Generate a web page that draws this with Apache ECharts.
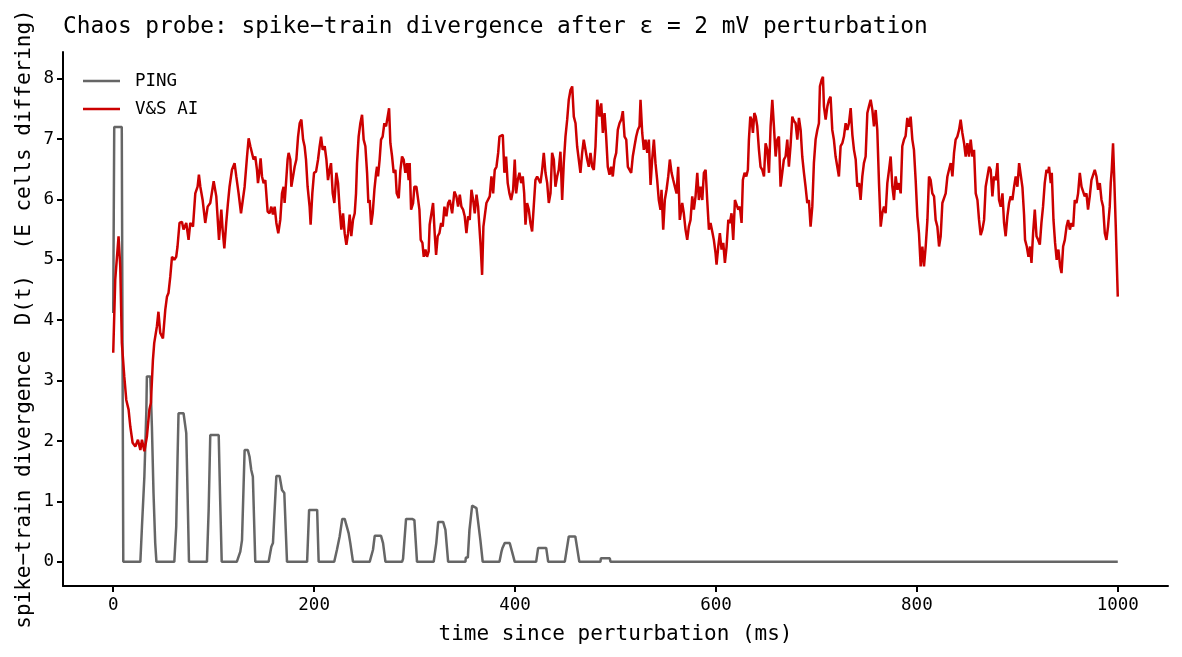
<!DOCTYPE html>
<html>
<head>
<meta charset="utf-8">
<script src="https://cdn.jsdelivr.net/npm/echarts@6/dist/echarts.min.js"></script>
<style>
html,body{margin:0;padding:0;background:#fff;}
#chart{width:1182px;height:657px;}
</style>
</head>
<body>
<div id="chart"></div>
<script>
const titleText = 'Chaos probe: spike\u2212train divergence after \u03b5 = 2 mV perturbation';
const xName = 'time since perturbation (ms)';
const yName = 'spike\u2212train divergence  D(t)  (E cells differing)';
const seriesNames = ['PING', 'V&S AI'];
const xTicks = [0, 200, 400, 600, 800, 1000];
const yTicks = [0, 1, 2, 3, 4, 5, 6, 7, 8];

const pingT = [0,1,8.5,10,27,28.6,31,33,33.5,36.9,38.5,40.1,41.8,43,
  60.8,62.7,64,65,70,72.7,74,75.4,
  93.3,95,96.6,105,106.5,108,
  123,126.5,128.2,130.8,134,135.7,137.4,139,141.4,
  154.7,157.4,159,162.4,165.6,168,170.3,173,
  193,195,203,204.5,
  220,222.7,225.4,228,230.4,234.4,236,238.7,
  255.3,258.6,260.3,266.6,268.6,271,
  287.5,288.5,290,291.5,297.5,299.8,302.4,
  319,321.6,323.5,328.4,330.7,333.4,
  350.6,351,353,354.6,357.3,359,361.6,365.5,367.8,
  384.5,386.5,387.5,389.7,394.7,397,399.7,
  421,423,431,433,
  449.5,453.5,460,464,
  485,485.5,494.3,495,1000];
const pingV = [4.12,7.2,7.2,0,0,0.58,1.41,2.52,3.07,3.07,2.24,1.14,0.31,0,
  0,0.58,1.69,2.46,2.46,2.13,1.14,0,
  0,0.86,2.1,2.1,1.0,0,
  0,0.17,0.36,1.85,1.85,1.74,1.52,1.41,0,
  0,0.25,0.31,1.42,1.42,1.19,1.14,0,
  0,0.86,0.86,0,
  0,0.2,0.42,0.71,0.71,0.47,0.31,0,
  0,0.2,0.43,0.43,0.31,0,
  0,0.05,0.05,0.71,0.71,0.69,0,
  0,0.31,0.66,0.66,0.53,0,
  0,0.07,0.07,0.53,0.93,0.93,0.89,0.36,0,
  0,0.17,0.23,0.31,0.31,0.17,0,
  0,0.23,0.23,0,
  0,0.42,0.42,0,
  0,0.06,0.06,0,0];

const redT = [0,2,5.3,7,8.6,11,13,15.3,17,19.3,22,24.6,27,28.6,31,33.5,36,37.5,39.5,40.8,
  43.5,45,46.8,49.5,51.8,53.5,55,56.8,58.5,60.8,62.7,64,66,68.4,70,72.7,75,76.7,79.4,81.7,
  84,85.3,86.7,89,91.6,94,96.6,100,102.6,105.3,107.6,108.9,110.6,112.5,114.2,115.8,118.2,120.8,122.5,124.8,
  127.2,128.8,130.8,133.2,134.8,136.5,138.1,139.7,141.4,143.1,144.1,145.4,146.7,148.1,149.7,151.4,153.7,155.7,157.4,159,
  160.7,162.4,164.3,166.3,168,169.6,170.6,172,173.6,174.6,176.3,177.3,179,180.6,182.3,184,185.6,187.3,189,190.5,
  191.9,193.5,195.5,196.5,198.2,199.9,201.9,203.9,205.5,206.9,208.5,210.5,212.2,213.8,215.4,216.8,218.5,220.1,222.1,223.8,
  225.4,227.1,228.8,230.4,232.1,233.8,235.4,237,238.7,240.4,241.7,242.7,244.3,246,247.7,249.3,251,252.7,254,255.3,
  256.7,258.3,260,261.7,262.6,263.6,265.2,266.6,268.2,269.9,271.6,273.2,274.6,275.9,277.6,279.2,280.9,282.2,284.2,285.9,
  287.5,289.1,290.8,292.5,294.1,295.1,296.5,298.5,299.8,301.8,303.1,304.8,306.1,307.8,309.1,310.8,312.4,314,315,316.7,
  318.4,320,321.4,323,324.7,326.4,328,329.7,331.7,333.4,335,337.4,339.6,341.6,343.3,345,346.6,348.3,349.9,351.6,
  353.3,354.9,356.6,358.3,359.9,361.6,363.2,364.5,365.8,367.2,368.5,369.8,371.5,373.2,374.8,376.5,378.2,379.8,381.5,383.2,
  384.5,386.2,387.8,389.4,391.1,392.7,394.4,396.1,398.1,399.7,401.1,402.7,404.4,406.1,407.7,409.1,410.4,412,413.7,415.3,
  417,418.6,420.3,422,423.6,425.3,427,428.6,430.3,432,433.6,435.3,436.9,438.6,440.2,441.9,443.5,445.2,446.9,448.5,
  450.2,451.9,453.5,455.2,456.9,458.5,460.2,461.8,463.5,465.1,466.8,468.4,470.1,471.8,473.4,475.1,476.8,478.4,480.1,481.8,
  482.8,484.1,485.8,487.4,489.1,490.7,492.3,494,495.7,497.3,499,500.7,502.3,504,505.7,507.3,509,510.7,512.3,514,
  515.6,517.2,518.9,520.6,522.2,523.9,524.9,526.6,528.2,529.9,531.6,533.2,534.9,536.5,538.2,539.8,541.5,543.1,544.8,545.8,
  547.5,549.1,550.8,552.5,554.1,555.8,557.5,559.1,560.8,562.4,564,566.4,568,569.7,571.4,573,574.7,576.4,578,579.7,
  581.4,583,584.7,586.4,588,589.7,591.3,593,594.6,596.3,597.9,599.6,600.6,602.3,603.9,605.6,607.3,608.9,610.6,612.3,
  613.9,615.5,617.2,618.9,620.5,622.2,623.8,625.5,626.8,628.5,630.2,631.8,632.8,634.2,635.5,636.8,638.2,639.6,641.1,642.8,
  644.4,646.1,647.8,649.4,651.1,652.8,654.4,656.1,657.7,659.4,661.1,662.7,664.3,666,667.6,669.3,671,672.6,674.3,676,
  677.6,679.3,681,682.6,684.3,685.9,687.6,689.2,690.9,692.5,694.2,695.9,697.5,699.2,700.9,702.5,703.5,705.2,706.5,707.5,
  709.2,710.9,712.5,714.1,715.8,717.4,719.1,720.8,722.4,724.1,725.8,727.4,729.1,730.8,732.4,734.1,735.8,737.4,739.1,740.7,
  742.4,744,745.7,747.3,749,750.7,752.3,754,755.7,757.3,759,760.6,762.3,764,765.6,767.3,768.9,770.6,772.3,773.9,
  775.6,777.2,778.9,780.6,782.2,783.9,785.5,787.2,788.8,790.5,792.1,793.8,795.5,797.1,798.8,800.5,802.1,803.8,805.5,807.1,
  808.8,810.5,812.1,813.7,815.4,817.1,818.7,820.4,822.1,823.7,825.4,827,828.7,830.4,832,833.7,835.4,837,838.6,840.3,
  842,843.6,845.3,847,848.6,850.3,851.9,853.6,855.3,856.9,858.6,860.3,861.9,863.5,865.2,866.9,868.5,870.2,871.9,873.5,
  875.2,876.8,878.5,880.2,881.8,883.5,885.2,886.8,888.4,890.1,891.8,893.4,895.1,896.8,898.4,900.1,901.8,903.4,905.1,906.7,
  907.7,909.4,911.1,912.7,914.1,915.7,917.4,919.1,920.7,922.4,924,925.6,927.3,929,930.6,931.6,933.3,934.3,936,937.6,
  939.2,940.9,942.6,944,945.6,947.3,949,950.6,952.3,953.9,955.6,957.2,958.9,960.5,962.2,963.9,965.5,967.1,968.8,970.4,
  972.1,973.8,975.4,977.1,978.8,980.4,982.1,983.8,985.4,987.1,988.7,990.3,992,993,994,995.3,996.3,998,1000];
const redV = [3.46,4.67,5.39,4.89,3.62,3.07,2.68,2.52,2.24,1.97,1.91,2.02,1.85,2.02,1.83,2.07,2.52,2.63,3.34,3.62,
  3.9,4.14,3.79,3.7,4.17,4.39,4.45,4.72,5.05,5.0,5.05,5.22,5.61,5.63,5.5,5.61,5.33,5.61,5.55,6.1,
  6.21,6.41,6.21,5.99,5.61,5.88,5.94,6.3,6.05,5.33,5.83,5.5,5.19,5.61,5.94,6.21,6.49,6.6,6.38,6.1,
  5.77,5.75,6.21,6.71,7.01,6.88,6.85,6.66,6.71,6.49,6.27,6.44,6.68,6.38,6.27,6.32,5.8,5.77,5.88,5.75,
  5.88,5.61,5.44,5.66,6.1,6.21,5.94,6.27,6.66,6.77,6.66,6.21,6.38,6.54,6.66,7.04,7.26,7.32,6.99,6.88,
  6.66,6.21,5.88,5.58,6.1,6.44,6.46,6.66,6.88,7.04,6.82,6.88,6.66,6.32,6.49,6.6,6.1,5.94,6.44,6.27,
  5.83,5.5,5.77,5.44,5.25,5.44,5.75,5.39,5.66,5.77,6.1,6.6,7.04,7.26,7.4,6.99,6.88,6.44,5.94,5.99,
  5.58,5.77,6.16,6.44,6.54,6.38,6.66,6.99,7.04,7.26,7.21,7.37,7.51,6.93,6.71,6.44,6.49,6.1,6.02,6.49,
  6.71,6.66,6.44,6.6,6.32,6.6,5.83,5.94,6.21,6.21,6.05,5.83,5.33,5.28,5.05,5.17,5.05,5.14,5.58,5.55,
  5.94,5.44,5.08,5.39,5.44,5.61,5.55,5.88,5.72,5.94,5.99,5.77,6.13,6.05,5.88,6.08,5.88,5.83,5.72,5.44,
  5.72,5.66,6.16,5.99,5.77,6.08,5.88,5.55,5.22,4.75,5.55,5.72,5.94,5.94,6.05,6.38,6.1,6.49,6.54,6.77,
  7.04,7.04,7.07,6.44,6.71,6.27,6.1,5.99,6.16,6.66,6.1,6.32,6.44,6.27,6.38,6.1,5.58,5.94,5.83,5.61,
  5.47,5.88,6.32,6.38,6.41,6.27,6.49,6.77,6.44,6.27,5.94,6.1,6.77,6.66,6.21,6.38,6.49,6.79,5.99,6.6,
  7.04,7.32,7.65,7.81,7.87,7.37,7.26,6.88,6.85,6.44,6.77,6.99,6.99,6.66,6.54,6.77,6.54,6.49,6.88,7.65,
  7.68,7.37,7.59,7.1,7.43,7.04,6.54,6.41,6.54,6.38,6.66,6.77,7.15,7.26,7.32,7.46,7.04,6.99,6.54,6.49,
  6.44,6.71,6.88,7.04,7.15,7.21,7.65,7.1,6.82,6.99,6.77,6.99,6.24,6.66,6.99,6.6,6.32,5.99,5.83,6.16,
  5.5,5.99,6.16,6.38,6.66,6.44,6.32,6.21,6.1,6.54,5.66,5.94,5.77,5.5,5.33,5.55,5.66,6.05,5.83,6.05,
  6.44,5.99,6.21,5.99,6.44,6.49,5.99,5.5,5.61,5.47,5.33,5.11,4.92,5.22,5.44,5.17,5.28,4.95,5.22,5.66,
  5.61,5.77,5.33,5.99,5.99,5.83,5.88,5.61,6.32,6.44,6.38,6.49,6.99,7.37,7.32,7.1,7.43,7.37,7.21,6.82,
  6.54,6.49,6.38,6.93,6.82,6.44,7.21,7.65,7.21,6.71,6.99,7.04,6.21,6.44,6.66,6.71,6.99,6.54,6.9,7.37,
  7.3,7.26,6.99,7.35,7.15,6.71,6.44,6.21,5.94,5.99,5.55,5.88,6.6,6.99,7.15,7.26,7.87,7.98,8.03,7.54,
  7.32,7.54,7.65,7.7,7.15,6.99,6.71,6.54,6.38,6.88,6.93,7.04,7.26,7.15,7.26,7.51,7.07,6.82,6.66,6.21,
  6.27,5.99,6.38,6.6,6.71,7.43,7.54,7.65,7.48,7.21,7.48,7.15,6.27,5.55,5.77,5.88,5.77,6.27,6.49,6.71,
  6.21,5.99,6.38,6.16,6.27,6.1,6.88,6.99,7.05,7.35,7.2,7.37,6.99,6.82,6.32,5.72,5.44,4.89,5.22,4.89,
  5.22,5.66,6.38,6.32,6.1,6.05,5.66,5.55,5.22,5.39,5.94,5.94,6.1,6.38,6.49,6.6,6.38,6.77,6.99,7.04,
  7.15,7.32,7.1,6.93,6.71,6.93,6.71,6.99,6.71,6.82,6.1,5.99,5.66,5.41,5.5,5.66,6.21,6.21,6.54,6.49,
  6.05,6.38,6.32,6.6,5.99,5.88,6.1,5.61,5.39,5.72,5.94,6.05,5.99,6.21,6.38,6.21,6.6,6.57,6.2,5.75,
  5.33,5.22,5.05,5.22,4.95,5.44,5.83,5.39,5.33,5.25,5.61,5.88,6.27,6.49,6.44,6.54,6.27,6.44,5.66,5.28,
  5.0,5.17,4.89,4.78,5.22,5.33,5.55,5.66,5.5,5.61,5.55,5.99,5.94,6.1,6.44,6.21,6.21,6.05,6.1,5.83,
  6.05,6.32,6.32,6.49,6.38,6.16,6.27,5.99,5.88,5.44,5.33,5.55,5.88,6.27,6.49,6.93,6.44,5.55,4.39];

const FONT = 'DejaVu Sans Mono';
const pingData = pingT.map((t, i) => [t, pingV[i]]);
const redData = redT.map((t, i) => [t, redV[i]]);

const chart = echarts.init(document.getElementById('chart'), null, {renderer: 'canvas'});
chart.setOption({
  animation: false,
  backgroundColor: '#ffffff',
  textStyle: {fontFamily: FONT, color: '#000'},
  title: {
    text: titleText, left: 58, top: 11,
    textStyle: {fontFamily: FONT, fontSize: 22.8, fontWeight: 'normal', color: '#000'}
  },
  legend: {
    orient: 'vertical', left: 78, top: 66,
    icon: 'rect',
    itemWidth: 37, itemHeight: 2.5, itemGap: 8,
    data: seriesNames,
    textStyle: {fontFamily: FONT, fontSize: 17.5, color: '#000', lineHeight: 20, padding: [0, 0, 0, 10]}
  },
  grid: {left: 63, right: 14, top: 52, bottom: 71, containLabel: false},
  xAxis: {
    type: 'value', min: -50, max: 1050,
    name: xName, nameLocation: 'middle', nameGap: 38, nameMoveOverlap: false,
    nameTextStyle: {fontFamily: FONT, fontSize: 21, color: '#000'},
    axisLine: {show: true, onZero: false, lineStyle: {color: '#000', width: 2}},
    axisTick: {show: true, inside: false, length: 6, customValues: xTicks, lineStyle: {color: '#000', width: 2}},
    axisLabel: {customValues: xTicks, formatter: v => String(v), fontFamily: FONT, fontSize: 17.5, color: '#000', margin: 10},
    splitLine: {show: false}
  },
  yAxis: {
    type: 'value', min: -0.4, max: 8.44,
    name: yName, nameLocation: 'middle', nameGap: 28, nameMoveOverlap: false,
    nameTextStyle: {fontFamily: FONT, fontSize: 21, color: '#000'},
    axisLine: {show: true, onZero: false, lineStyle: {color: '#000', width: 2}},
    axisTick: {show: true, inside: false, length: 6, customValues: yTicks, lineStyle: {color: '#000', width: 2}},
    axisLabel: {customValues: yTicks, formatter: v => String(v), fontFamily: FONT, fontSize: 17.5, color: '#000', margin: 9, padding: [4, 0, 0, 0]},
    splitLine: {show: false}
  },
  series: [
    {name: seriesNames[0], type: 'line', data: pingData, symbol: 'none', showSymbol: false,
     lineStyle: {color: '#666666', width: 2.5}, itemStyle: {color: '#666666'}, z: 2},
    {name: seriesNames[1], type: 'line', data: redData, symbol: 'none', showSymbol: false,
     lineStyle: {color: '#cc0000', width: 2.5}, itemStyle: {color: '#cc0000'}, z: 3}
  ]
});
</script>
</body>
</html>
